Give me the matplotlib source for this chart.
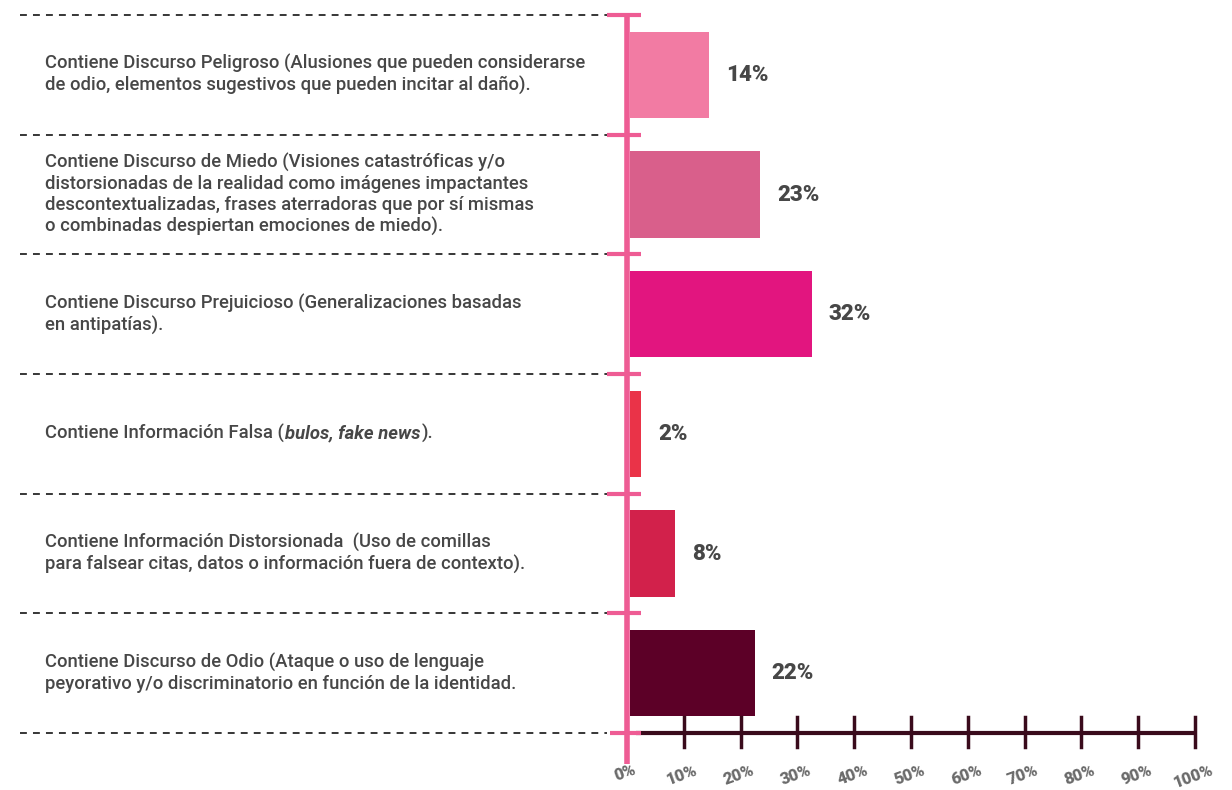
import matplotlib.pyplot as plt
import matplotlib.transforms as mtransforms

plt.rcParams['font.family'] = ['Roboto', 'DejaVu Sans']

labels = [
    "Contiene Discurso Peligroso (Alusiones que pueden considerarse\nde odio, elementos sugestivos que pueden incitar al daño).",
    "Contiene Discurso de Miedo (Visiones catastróficas y/o\ndistorsionadas de la realidad como imágenes impactantes\ndescontextualizadas, frases aterradoras que por sí mismas\no combinadas despiertan emociones de miedo).",
    "Contiene Discurso Prejuicioso (Generalizaciones basadas\nen antipatías).",
    None,  # falsa, drawn in pieces
    "Contiene Información Distorsionada  (Uso de comillas\npara falsear citas, datos o información fuera de contexto).",
    "Contiene Discurso de Odio (Ataque o uso de lenguaje\npeyorativo y/o discriminatorio en función de la identidad.",
]
values = [14, 23, 32, 2, 8, 22]
colors = ["#F27BA3", "#D95F8B", "#E2157F", "#EA3348", "#D2214B", "#5C0027"]
ticks = [0, 10, 20, 30, 40, 50, 60, 70, 80, 90, 100]

pink = "#EE5C94"
dark = "#3A0B1C"
gray = "#474747"
fs = 13.3

fig = plt.figure(figsize=(12.32, 7.9), dpi=100)
ax = fig.add_axes([627 / 1232, 57 / 790, 568 / 1232, 718 / 790])
n = len(values)
ys = [n - 1 - i + 0.5 for i in range(n)]
ax.set_xlim(0, 100)
ax.set_ylim(0, n)
ax.axis('off')

ax.barh(ys, values, height=0.72, color=colors, left=0.5)
for y, v in zip(ys, values):
    ax.text(v + 3.5, y, f"{v}%", va='center', ha='left', fontsize=16,
            fontweight='heavy', color=gray)

# separators
bt = mtransforms.blended_transform_factory(fig.transFigure, ax.transData)
for k in range(n + 1):
    ax.plot([20 / 1232, 607 / 1232], [k, k], transform=bt, color='black',
            lw=1.1, dashes=(4.5, 4), clip_on=False)
    if k > 0:
        ax.plot([607 / 1232, 641 / 1232], [k, k], transform=bt, color=pink,
                lw=3, clip_on=False, solid_capstyle='butt')

# x axis
ax.plot([1.5, 100], [0, 0], color=dark, lw=3, clip_on=False, solid_capstyle='butt')
ax.plot([-3, 2.5], [0, 0], color=pink, lw=3, clip_on=False, solid_capstyle='butt')
for t in ticks[1:]:
    ax.plot([t, t], [-0.12, 0.13], color=dark, lw=2.5, clip_on=False)

for t in ticks:
    ax.text(t - 0.3, -0.24, f"{t}%", rotation=20, ha='center', va='top',
            fontsize=12, fontweight='heavy', color='#6a6a6a', clip_on=False)

# pink vertical axis
ax.plot([0, 0], [-0.26, n], color=pink, lw=4, clip_on=False, solid_capstyle='butt')

# category labels
tx = 45 / 1232
for y, lab in zip(ys, labels):
    if lab is not None:
        ax.text(tx, y, lab, transform=bt, va='center', ha='left', fontsize=fs,
                color=gray, linespacing=1.2, fontweight='medium')

fig.canvas.draw()
r = fig.canvas.get_renderer()
yf = ys[3]
parts = [("Contiene Información Falsa (", 'normal', 'medium'),
         ("bulos, fake news", 'italic', 'bold'),
         (").", 'normal', 'medium')]
x = tx
for s, st, wt in parts:
    t = ax.text(x, yf, s, transform=bt, va='center', ha='left', fontsize=fs,
                color=gray, style=st, fontweight=wt)
    bb = t.get_window_extent(renderer=r)
    x += bb.width / fig.bbox.width + 1 / 1232

fig.savefig("out.png", dpi=100, facecolor='white')
